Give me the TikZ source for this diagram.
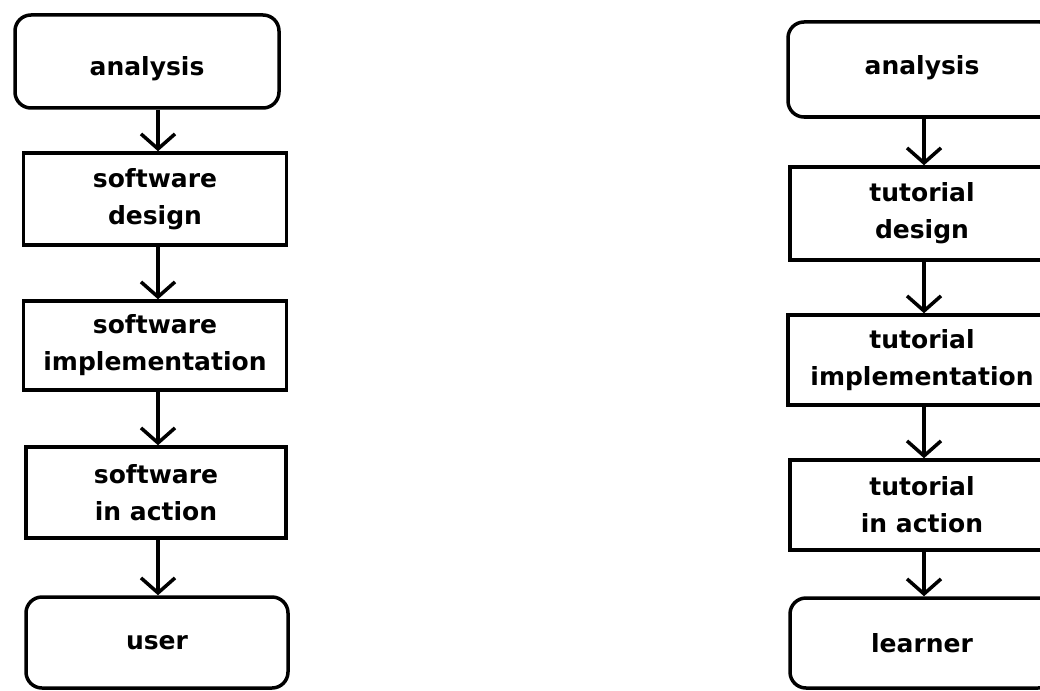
\documentclass[tikz,border=0pt]{standalone}
\usepackage{fontspec}
\setmainfont{DejaVu Sans}
\usetikzlibrary{arrows.meta}
% shift a label vertically without changing the box it occupies
\newcommand{\shiftlabel}[2]{\raisebox{#1}[\height][\depth]{#2}}
\begin{document}
\begin{tikzpicture}[x=1pt,y=-1pt,
  every node/.style={font=\bfseries\fontsize{25}{37}\selectfont, align=center, inner sep=0pt},
  stepbox/.style={draw, line width=3.5pt, rectangle, minimum width=#1, minimum height=90pt},
  endbox/.style={draw, line width=3.5pt, rectangle, rounded corners=16pt, minimum width=#1, minimum height=93pt},
  arr/.style={line width=3.5pt, -{Straight Barb[length=15pt,width=34pt,line width=3.5pt]}}
]
\useasboundingbox (0,0) rectangle (1040,690);

% left chain: software process
\node[endbox=264pt]  (la) at (147,61.5) {\shiftlabel{-7pt}{analysis}};
\node[stepbox=263pt, minimum height=92pt] (ld) at (155,199) {software\\design};
\node[stepbox=263pt, minimum height=89pt] (li) at (155,345.5) {software\\implementation};
\node[stepbox=260pt, minimum height=91pt] (lx) at (156,492.5) {software\\in action};
\node[endbox=262pt, minimum height=91pt]  (lu) at (157,642.5) {user};

\coordinate (lc) at (158,0);
\draw[arr] (la.south -| lc) -- (ld.north -| lc);
\draw[arr] (ld.south -| lc) -- (li.north -| lc);
\draw[arr] (li.south -| lc) -- (lx.north -| lc);
\draw[arr] (lx.south -| lc) -- (lu.north -| lc);

% right chain: tutorial process
\node[endbox=268pt, minimum height=95pt] (ra) at (922,69.5) {\shiftlabel{2pt}{analysis}};
\node[stepbox=264pt, minimum height=93pt] (rd) at (922,213.5) {tutorial\\design};
\node[stepbox=268pt] (ri) at (922,360) {tutorial\\implementation};
\node[stepbox=264pt] (rx) at (922,505) {tutorial\\in action};
\node[endbox=264pt, minimum height=90pt] (rl) at (922,643) {learner};

\coordinate (rc) at (924,0);
\draw[arr] (ra.south -| rc) -- (rd.north -| rc);
\draw[arr] (rd.south -| rc) -- (ri.north -| rc);
\draw[arr] (ri.south -| rc) -- (rx.north -| rc);
\draw[arr] (rx.south -| rc) -- (rl.north -| rc);
\end{tikzpicture}
\end{document}
